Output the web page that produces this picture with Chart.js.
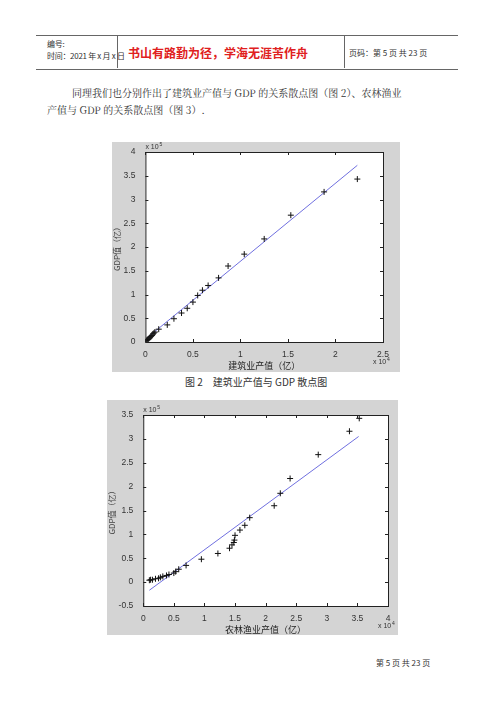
<!DOCTYPE html>
<html><head><meta charset="utf-8">
<script src="https://cdn.jsdelivr.net/npm/chart.js@4"></script>
<style>
body{margin:0;background:#fff;width:500px;height:707px;position:relative;overflow:hidden;font-family:"Noto Sans CJK SC",sans-serif;color:#333}
.abs{position:absolute}
.hdr{left:36px;top:35px;width:422px;height:33px;border-top:1px solid #666;border-bottom:1px solid #666}
.fig{background:#d4d4d4}
</style></head><body>
<div class="abs hdr"></div>
<div class="abs" style="left:117px;top:35px;height:33px;border-left:1px solid #666"></div>
<div class="abs" style="left:344px;top:35px;height:33px;border-left:1px solid #666"></div>
<div class="abs" style="left:47px;top:38px;font-size:8px;line-height:12px;letter-spacing:-0.3px">编号:<br>时间：2021 年 x 月 x 日</div>
<div class="abs" style="left:128px;top:44px;font-size:12px;color:#e02020;font-weight:bold">书山有路勤为径，学海无涯苦作舟</div>
<div class="abs" style="left:349px;top:47px;font-size:8px">页码：第 5 页 共 23 页</div>
<div class="abs" style="left:72px;top:84px;font-size:10px;line-height:17px;font-family:'Noto Serif CJK SC','Noto Sans CJK SC',serif">同理我们也分别作出了建筑业产值与 GDP 的关系散点图（图 2）、农林渔业<br><span style="margin-left:-25px">产值与 GDP 的关系散点图（图 3）.</span></div>
<div class="abs fig" style="left:112px;top:142px;width:288px;height:230px"><canvas id="c1"></canvas></div>
<div class="abs" style="left:185px;top:374px;font-size:10px">图 2　建筑业产值与 GDP 散点图</div>
<div class="abs fig" style="left:107px;top:400px;width:291px;height:235px"><canvas id="c2"></canvas></div>
<div class="abs" style="left:376px;top:657px;font-size:8px">第 5 页 共 23 页</div>
<script>
// units: x ×1e4, y ×1e5
const buildX = [0.01,0.02,0.03,0.04,0.05,0.06,0.07,0.08,0.09,0.1,0.14,0.23,0.3,0.38,0.44,0.5,0.55,0.6,0.66,0.77,0.87,1.04,1.25,1.53,1.88,2.23];
const buildY = [0.03,0.05,0.06,0.08,0.1,0.12,0.14,0.17,0.19,0.21,0.27,0.36,0.49,0.61,0.71,0.84,0.98,1.09,1.19,1.35,1.6,1.85,2.17,2.67,3.16,3.43];
const buildFitX = [0.02,2.23];
const buildFitY = [0.09,3.72];
const buildXTicks = [0,0.5,1,1.5,2,2.5];
const buildYTicks = [0,0.5,1,1.5,2,2.5,3,3.5,4];

const agriX = [0.1,0.12,0.15,0.2,0.25,0.28,0.32,0.38,0.42,0.5,0.53,0.58,0.7,0.95,1.22,1.41,1.45,1.48,1.49,1.5,1.58,1.66,1.74,2.14,2.24,2.4,2.86,3.37,3.53];
const agriY = [0.04,0.05,0.05,0.07,0.08,0.1,0.12,0.14,0.16,0.19,0.22,0.27,0.35,0.48,0.6,0.71,0.78,0.83,0.88,0.98,1.09,1.19,1.35,1.6,1.86,2.17,2.67,3.16,3.43];
const agriFitX = [0.1,3.52];
const agriFitY = [-0.17,3.05];
const agriXTicks = [0,0.5,1,1.5,2,2.5,3,3.5,4];
const agriYTicks = [-0.5,0,0.5,1,1.5,2,2.5,3,3.5];

const boxPlugin = {
  id: "box",
  beforeDraw(chart) {
    const a = chart.chartArea, ctx = chart.ctx;
    ctx.save(); ctx.fillStyle = "#fff"; ctx.fillRect(a.left, a.top, a.right - a.left, a.bottom - a.top); ctx.restore();
  },
  afterDraw(chart) {
    const a = chart.chartArea, ctx = chart.ctx, o = chart.options.plugins.box;
    ctx.save();
    ctx.strokeStyle = "#222"; ctx.lineWidth = 1;
    ctx.strokeRect(a.left + 0.5, a.top + 0.5, a.right - a.left, a.bottom - a.top);
    ctx.beginPath();
    o.xt.forEach(v => { const p = Math.round(chart.scales.x.getPixelForValue(v)) + 0.5;
      ctx.moveTo(p, a.bottom); ctx.lineTo(p, a.bottom - 3); ctx.moveTo(p, a.top); ctx.lineTo(p, a.top + 3); });
    o.yt.forEach(v => { const p = Math.round(chart.scales.y.getPixelForValue(v)) + 0.5;
      ctx.moveTo(a.left, p); ctx.lineTo(a.left + 3, p); ctx.moveTo(a.right, p); ctx.lineTo(a.right - 3, p); });
    ctx.stroke();
    ctx.fillStyle = "#333"; ctx.font = "7px 'Liberation Sans'";
    ctx.fillText("x 10", a.left, a.top - 3); ctx.font = "5px 'Liberation Sans'"; ctx.fillText("5", a.left + 14, a.top - 6);
    ctx.font = "7px 'Liberation Sans'";
    ctx.fillText("x 10", a.right - 10, a.bottom + 22); ctx.font = "5px 'Liberation Sans'"; ctx.fillText("4", a.right + 4, a.bottom + 19);
    ctx.restore();
  }
};

function makeChart(id, xs, ys, fx, fy, xt, yt, xTitle, pad) {
  const pts = xs.map((x, i) => ({x: x, y: ys[i]}));
  const fit = fx.map((x, i) => ({x: x, y: fy[i]}));
  const tickFont = {family: "'Liberation Sans'", size: 8.5};
  const fmt = v => String(v);
  new Chart(document.getElementById(id), {
    type: "scatter",
    data: { datasets: [
      { data: pts, pointStyle: "cross", radius: 3, borderColor: "#111", borderWidth: 1 },
      { data: fit, type: "line", showLine: true, borderColor: "#7070e0", borderWidth: 1, pointRadius: 0 }
    ]},
    options: {
      responsive: true, maintainAspectRatio: false, animation: false,
      layout: { padding: pad },
      plugins: { legend: { display: false }, tooltip: { enabled: false }, box: { xt: xt, yt: yt } },
      scales: {
        x: { type: "linear", min: xt[0], max: xt[xt.length - 1], afterBuildTicks: s => { s.ticks = xt.map(v => ({value: v})); },
             grid: { display: false }, border: { display: false },
             ticks: { color: "#333", font: tickFont, padding: 0, callback: fmt, maxRotation: 0 },
             title: { display: true, text: xTitle, color: "#222", font: {family: "'Noto Sans CJK SC'", size: 9}, padding: 0 } },
        y: { type: "linear", min: yt[0], max: yt[yt.length - 1], afterBuildTicks: s => { s.ticks = yt.map(v => ({value: v})); },
             grid: { display: false }, border: { display: false },
             ticks: { color: "#333", font: tickFont, padding: 2, callback: fmt },
             title: { display: true, text: "GDP值（亿）", color: "#444", font: {family: "'Noto Sans CJK SC'", size: 8}, padding: 0 } }
      }
    },
    plugins: [boxPlugin]
  });
}

makeChart("c1", buildX, buildY, buildFitX, buildFitY, buildXTicks, buildYTicks, "建筑业产值（亿）", {left: 0, top: 10, right: 17, bottom: 1});
makeChart("c2", agriX, agriY, agriFitX, agriFitY, agriXTicks, agriYTicks, "农林渔业产值（亿）", {left: 0, top: 15, right: 10, bottom: 0});
</script>
</body></html>
